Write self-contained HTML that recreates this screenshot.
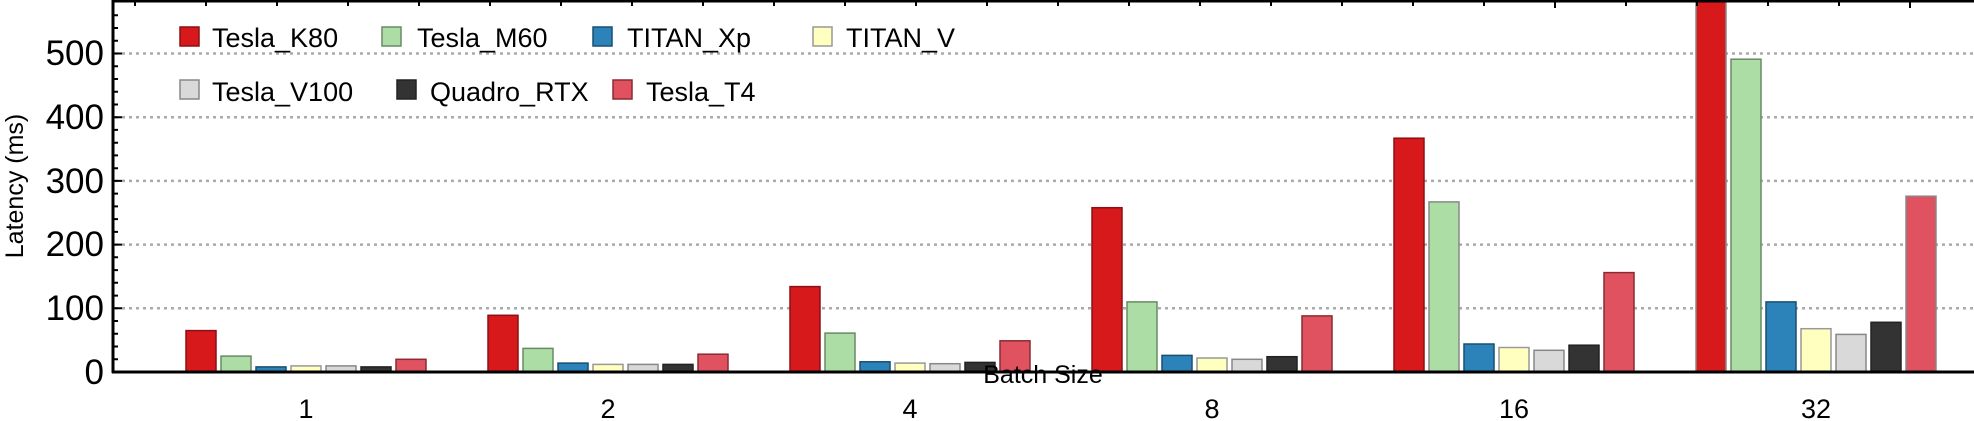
<!DOCTYPE html>
<html><head><meta charset="utf-8"><style>
html,body{margin:0;padding:0;background:#fff;}
svg{display:block;font-family:"Liberation Sans",sans-serif;}
</style></head><body>
<svg width="1974" height="421" viewBox="0 0 1974 421" xmlns="http://www.w3.org/2000/svg">
<g stroke="#aaa" stroke-width="2.5" stroke-dasharray="3,4">
<line x1="115" y1="308.3" x2="1973" y2="308.3"/>
<line x1="115" y1="244.6" x2="1973" y2="244.6"/>
<line x1="115" y1="180.9" x2="1973" y2="180.9"/>
<line x1="115" y1="117.2" x2="1973" y2="117.2"/>
<line x1="115" y1="53.5" x2="1973" y2="53.5"/>
</g>
<g stroke-width="1.5">
<rect x="186" y="330.6" width="30" height="41.4" fill="#d7191c" stroke="#8b1015"/>
<rect x="221" y="356.1" width="30" height="15.9" fill="#abdda4" stroke="#6a8a66"/>
<rect x="256" y="366.9" width="30" height="5.1" fill="#2b83ba" stroke="#1a4f70"/>
<rect x="291" y="365.9" width="30" height="6.1" fill="#ffffbf" stroke="#999"/>
<rect x="326" y="365.9" width="30" height="6.1" fill="#d9d9d9" stroke="#888"/>
<rect x="361" y="366.9" width="30" height="5.1" fill="#333333" stroke="#222"/>
<rect x="396" y="359.3" width="30" height="12.7" fill="#e05260" stroke="#8b2a33"/>
<rect x="488" y="315.3" width="30" height="56.7" fill="#d7191c" stroke="#8b1015"/>
<rect x="523" y="348.4" width="30" height="23.6" fill="#abdda4" stroke="#6a8a66"/>
<rect x="558" y="363.1" width="30" height="8.9" fill="#2b83ba" stroke="#1a4f70"/>
<rect x="593" y="364.4" width="30" height="7.6" fill="#ffffbf" stroke="#999"/>
<rect x="628" y="364.4" width="30" height="7.6" fill="#d9d9d9" stroke="#888"/>
<rect x="663" y="364.4" width="30" height="7.6" fill="#333333" stroke="#222"/>
<rect x="698" y="354.2" width="30" height="17.8" fill="#e05260" stroke="#8b2a33"/>
<rect x="790" y="286.6" width="30" height="85.4" fill="#d7191c" stroke="#8b1015"/>
<rect x="825" y="333.1" width="30" height="38.9" fill="#abdda4" stroke="#6a8a66"/>
<rect x="860" y="361.8" width="30" height="10.2" fill="#2b83ba" stroke="#1a4f70"/>
<rect x="895" y="363.1" width="30" height="8.9" fill="#ffffbf" stroke="#999"/>
<rect x="930" y="363.7" width="30" height="8.3" fill="#d9d9d9" stroke="#888"/>
<rect x="965" y="362.4" width="30" height="9.6" fill="#333333" stroke="#222"/>
<rect x="1000" y="340.8" width="30" height="31.2" fill="#e05260" stroke="#8b2a33"/>
<rect x="1092" y="207.7" width="30" height="164.3" fill="#d7191c" stroke="#8b1015"/>
<rect x="1127" y="301.9" width="30" height="70.1" fill="#abdda4" stroke="#6a8a66"/>
<rect x="1162" y="355.4" width="30" height="16.6" fill="#2b83ba" stroke="#1a4f70"/>
<rect x="1197" y="358" width="30" height="14" fill="#ffffbf" stroke="#999"/>
<rect x="1232" y="359.3" width="30" height="12.7" fill="#d9d9d9" stroke="#888"/>
<rect x="1267" y="356.7" width="30" height="15.3" fill="#333333" stroke="#222"/>
<rect x="1302" y="315.9" width="30" height="56.1" fill="#e05260" stroke="#8b2a33"/>
<rect x="1394" y="138.2" width="30" height="233.8" fill="#d7191c" stroke="#8b1015"/>
<rect x="1429" y="201.9" width="30" height="170.1" fill="#abdda4" stroke="#888"/>
<rect x="1464" y="344" width="30" height="28" fill="#2b83ba" stroke="#1a4f70"/>
<rect x="1499" y="347.5" width="30" height="24.5" fill="#ffffbf" stroke="#999"/>
<rect x="1534" y="350.3" width="30" height="21.7" fill="#d9d9d9" stroke="#888"/>
<rect x="1569" y="345.2" width="30" height="26.8" fill="#333333" stroke="#222"/>
<rect x="1604" y="272.6" width="30" height="99.4" fill="#e05260" stroke="#8b2a33"/>
<rect x="1696" y="0" width="30" height="372" fill="#d7191c" stroke="#888"/>
<rect x="1731" y="59.2" width="30" height="312.8" fill="#abdda4" stroke="#6a8a66"/>
<rect x="1766" y="301.9" width="30" height="70.1" fill="#2b83ba" stroke="#1a4f70"/>
<rect x="1801" y="328.7" width="30" height="43.3" fill="#ffffbf" stroke="#999"/>
<rect x="1836" y="334.4" width="30" height="37.6" fill="#d9d9d9" stroke="#888"/>
<rect x="1871" y="322.3" width="30" height="49.7" fill="#333333" stroke="#222"/>
<rect x="1906" y="196.2" width="30" height="175.8" fill="#e05260" stroke="#888"/>
</g>
<g stroke="#000" stroke-width="3" fill="none">
<line x1="113" y1="0" x2="113" y2="373"/>
<line x1="112" y1="372" x2="1974" y2="372"/>
<line x1="112" y1="1" x2="1974" y2="1"/>
</g>
<path stroke="#000" stroke-width="2" fill="none" d="
M113 359.3h5M113 346.5h5M113 333.8h5M113 321h5M113 308.3h9
M113 295.6h5M113 282.8h5M113 270.1h5M113 257.3h5M113 244.6h9
M113 231.9h5M113 219.1h5M113 206.4h5M113 193.6h5M113 180.9h9
M113 168.2h5M113 155.4h5M113 142.7h5M113 129.9h5M113 117.2h9
M113 104.5h5M113 91.7h5M113 79h5M113 66.2h5M113 53.5h9
M113 40.8h5M113 28h5M113 15.3h5
M135 0v6M206 0v6M277 0v6M348 0v6M419 0v6M490 0v6M561 0v6M632 0v6M703 0v6M774 0v6M845 0v6M916 0v6M987 0v6M1058 0v6M1129 0v6M1200 0v6M1271 0v6M1342 0v6M1413 0v6M1484 0v6M1555 0v8M1626 0v6M1697 0v6M1768 0v6M1839 0v6M1910 0v8"/>
<g font-size="35" text-anchor="end" fill="#000">
<text x="104" y="384">0</text>
<text x="104" y="320">100</text>
<text x="104" y="256">200</text>
<text x="104" y="193">300</text>
<text x="104" y="129">400</text>
<text x="104" y="65">500</text>
</g>
<text transform="translate(23,186) rotate(-90)" font-size="25" text-anchor="middle">Latency (ms)</text>
<g font-size="27" text-anchor="middle">
<text x="306" y="418">1</text><text x="608" y="418">2</text><text x="910" y="418">4</text>
<text x="1212" y="418">8</text><text x="1514" y="418">16</text><text x="1816" y="418">32</text>
</g>
<text x="1043" y="383" font-size="25" text-anchor="middle">Batch Size</text>
<g font-size="27">
<rect x="180" y="27" width="19" height="19" fill="#d7191c" stroke="#8b1015" stroke-width="1.5"/><text x="212" y="47">Tesla_K80</text>
<rect x="382" y="27" width="19" height="19" fill="#abdda4" stroke="#6a8a66" stroke-width="1.5"/><text x="417" y="47">Tesla_M60</text>
<rect x="593" y="27" width="19" height="19" fill="#2b83ba" stroke="#1a4f70" stroke-width="1.5"/><text x="627" y="47">TITAN_Xp</text>
<rect x="813" y="27" width="19" height="19" fill="#ffffbf" stroke="#999" stroke-width="1.5"/><text x="846" y="47">TITAN_V</text>
<rect x="180" y="80" width="19" height="19" fill="#d9d9d9" stroke="#888" stroke-width="1.5"/><text x="212" y="101">Tesla_V100</text>
<rect x="397" y="80" width="19" height="19" fill="#333" stroke="#222" stroke-width="1.5"/><text x="430" y="101">Quadro_RTX</text>
<rect x="613" y="80" width="19" height="19" fill="#e05260" stroke="#8b2a33" stroke-width="1.5"/><text x="646" y="101">Tesla_T4</text>
</g>
</svg>
</body></html>
